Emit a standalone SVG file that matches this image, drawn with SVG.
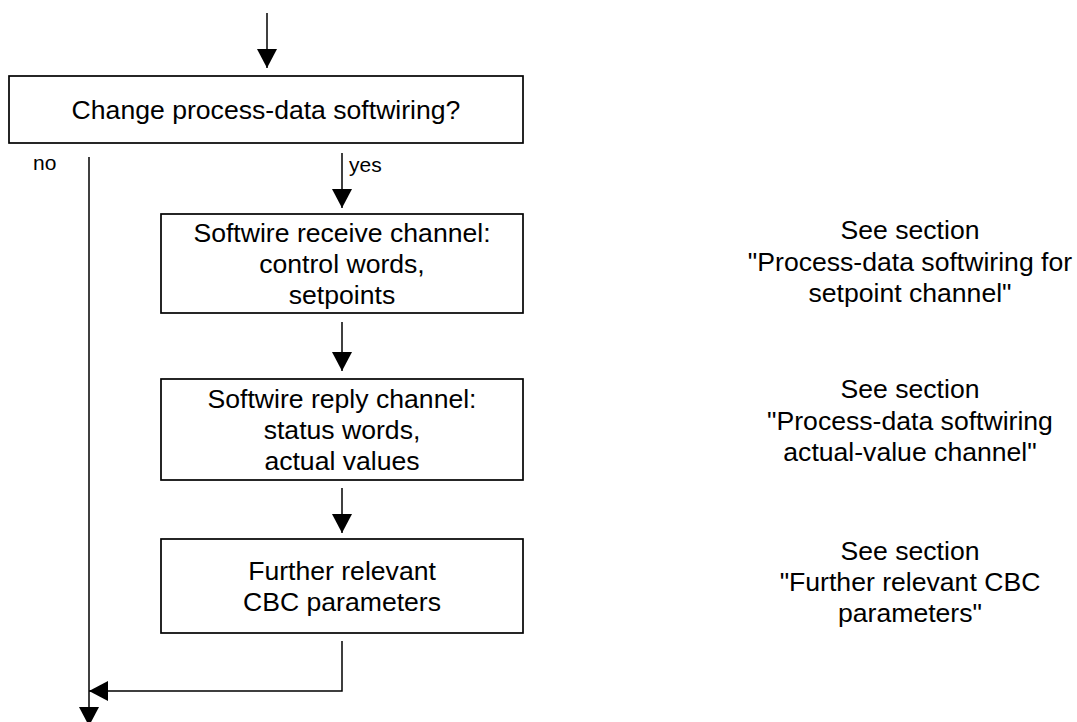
<svg xmlns="http://www.w3.org/2000/svg" width="1077" height="722" viewBox="0 0 1077 722">
<style>
.box{fill:#fff;stroke:#000;stroke-width:1.7}
.t{font-family:"Liberation Sans",Arial,sans-serif;font-size:26.6px;fill:#000;text-anchor:middle}
.s{font-family:"Liberation Sans",Arial,sans-serif;font-size:21px;fill:#000}
.c{fill:none;stroke:#000;stroke-width:1.5}
</style>
<defs>
<marker id="ah" markerUnits="userSpaceOnUse" markerWidth="19" markerHeight="20" refX="19" refY="10" orient="auto" viewBox="0 0 19 20">
<path d="M0,0 L19,10 L0,20 z" fill="#000"/>
</marker>
</defs>
<rect width="1077" height="722" fill="#fff"/>
<g id="connectors">
<path class="c" d="M267,13 V68" marker-end="url(#ah)"/>
<path class="c" d="M342,153 V208" marker-end="url(#ah)"/>
<path class="c" d="M342,322 V371" marker-end="url(#ah)"/>
<path class="c" d="M342,488 V533" marker-end="url(#ah)"/>
<path class="c" d="M342,641 V691 H89" marker-end="url(#ah)"/>
<path class="c" d="M89,157 V726" marker-end="url(#ah)"/>
<text class="s" x="33" y="170">no</text>
<text class="s" x="349" y="172">yes</text>
</g>
<g id="decision">
<rect class="box" x="9" y="76" width="514" height="67"/>
<text class="t" x="266" y="119">Change process-data softwiring?</text>
</g>
<g id="receive">
<rect class="box" x="161" y="214" width="362" height="99"/>
<text class="t" x="342" y="241.5">Softwire receive channel:</text>
<text class="t" x="342" y="272.5">control words,</text>
<text class="t" x="342" y="303.5">setpoints</text>
</g>
<g id="reply">
<rect class="box" x="161" y="379" width="362" height="101"/>
<text class="t" x="342" y="407.5">Softwire reply channel:</text>
<text class="t" x="342" y="438.5">status words,</text>
<text class="t" x="342" y="469.5">actual values</text>
</g>
<g id="further">
<rect class="box" x="161" y="539" width="362" height="94"/>
<text class="t" x="342" y="579.5">Further relevant</text>
<text class="t" x="342" y="610.5">CBC parameters</text>
</g>
<g id="note1">
<text class="t" x="910" y="239">See section</text>
<text class="t" x="910" y="271">"Process-data softwiring for</text>
<text class="t" x="910" y="302">setpoint channel"</text>
</g>
<g id="note2">
<text class="t" x="910" y="398">See section</text>
<text class="t" x="910" y="430">"Process-data softwiring</text>
<text class="t" x="910" y="461">actual-value channel"</text>
</g>
<g id="note3">
<text class="t" x="910" y="560">See section</text>
<text class="t" x="910" y="591">"Further relevant CBC</text>
<text class="t" x="910" y="622">parameters"</text>
</g>
</svg>
